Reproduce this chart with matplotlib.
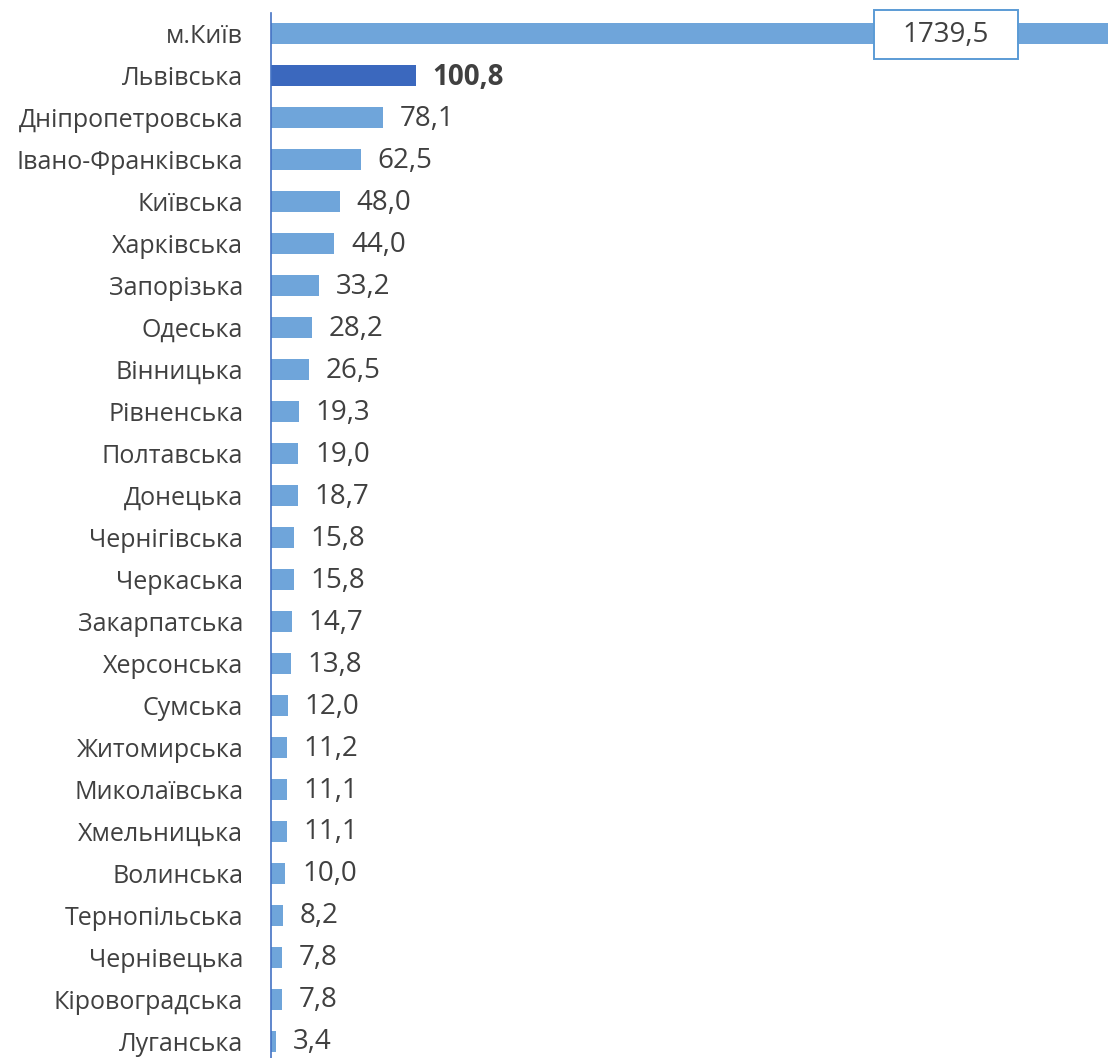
import matplotlib
matplotlib.use("Agg")
import matplotlib.pyplot as plt
from matplotlib.patches import Rectangle

regions = ["м.Київ", "Львівська", "Дніпропетровська", "Івано-Франківська", "Київська",
           "Харківська", "Запорізька", "Одеська", "Вінницька", "Рівненська", "Полтавська",
           "Донецька", "Чернігівська", "Черкаська", "Закарпатська", "Херсонська", "Сумська",
           "Житомирська", "Миколаївська", "Хмельницька", "Волинська", "Тернопільська",
           "Чернівецька", "Кіровоградська", "Луганська"]
values = [1739.5, 100.8, 78.1, 62.5, 48.0, 44.0, 33.2, 28.2, 26.5, 19.3, 19.0, 18.7, 15.8,
          15.8, 14.7, 13.8, 12.0, 11.2, 11.1, 11.1, 10.0, 8.2, 7.8, 7.8, 3.4]
highlight = "Львівська"

plt.rcParams['font.family'] = ['Open Sans', 'DejaVu Sans']
W, H = 1108, 1058
fig = plt.figure(figsize=(W/100, H/100), dpi=100)
left = 271 / W
top_px = 13
bottom_px = 1062
ax = fig.add_axes([left, 1 - bottom_px / H, 1 - left, (bottom_px - top_px) / H])

light = "#6FA5DA"
dark = "#3B68BE"
txt = "#404040"
n = len(regions)
ys = list(range(n))
colors = [dark if r == highlight else light for r in regions]
ax.barh(ys, values, height=0.5, color=colors, zorder=2)
xmax = 582.5
ax.set_xlim(0, xmax)
ax.set_ylim(n - 0.5, -0.5)

for y, v, r in zip(ys, values, regions):
    s = f"{v:.1f}".replace(".", ",")
    if v > xmax:
        bx0, bx1 = 419.6, 519.8
        ax.add_patch(Rectangle((bx0, y - 0.57), bx1 - bx0, 1.165, fc="white",
                               ec="#5B9BD5", lw=1.4, zorder=3, clip_on=False))
        ax.text((bx0 + bx1) / 2, y + 0.03, s, ha="center", va="center", fontsize=20,
                color=txt, zorder=4)
    else:
        ax.annotate(s, (v, y + 0.03), xytext=(12, 0), textcoords="offset points", ha="left",
                    va="center", fontsize=20, color=txt,
                    fontweight="bold" if r == highlight else "normal")

ax.set_yticks(ys)
ax.set_yticklabels(regions, fontsize=18, color=txt)
ax.tick_params(axis="y", length=0, pad=20)
ax.set_xticks([])
for sp in ["top", "right", "bottom"]:
    ax.spines[sp].set_visible(False)
ax.spines["left"].set_color("#4472C4")
ax.spines["left"].set_linewidth(1.2)

fig.savefig("out.png", dpi=100)
